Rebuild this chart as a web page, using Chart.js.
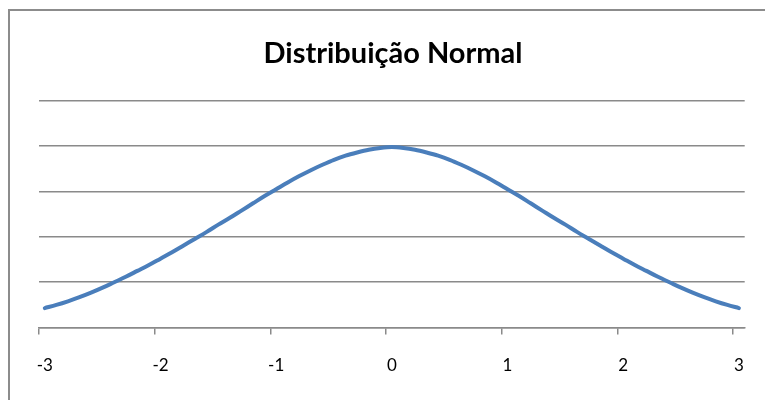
<!DOCTYPE html>
<html>
<head>
<meta charset="utf-8">
<script src="https://cdn.jsdelivr.net/npm/chart.js@4/dist/chart.umd.min.js"></script>
<style>
html,body{margin:0;padding:0;background:#fff;}
#wrap{width:765px;height:400px;position:relative;}
</style>
</head>
<body>
<div id="wrap"><canvas id="c" width="765" height="400"></canvas></div>
<script>
const chartTitle = 'Distribuição Normal';
const categories = ['-3','-2.9','-2.8','-2.7','-2.6','-2.5','-2.4','-2.3','-2.2','-2.1',
  '-2','-1.9','-1.8','-1.7','-1.6','-1.5','-1.4','-1.3','-1.2','-1.1',
  '-1','-0.9','-0.8','-0.7','-0.6','-0.5','-0.4','-0.3','-0.2','-0.1',
  '0','0.1','0.2','0.3','0.4','0.5','0.6','0.7','0.8','0.9',
  '1','1.1','1.2','1.3','1.4','1.5','1.6','1.7','1.8','1.9',
  '2','2.1','2.2','2.3','2.4','2.5','2.6','2.7','2.8','2.9','3'];
const densityValues = [0.043,0.050,0.058,0.067,0.077,0.088,0.100,0.112,0.125,0.138,
  0.152,0.166,0.181,0.196,0.211,0.227,0.242,0.258,0.274,0.290,
  0.305,0.320,0.334,0.347,0.359,0.370,0.379,0.386,0.392,0.396,
  0.398,0.396,0.392,0.386,0.379,0.370,0.359,0.347,0.334,0.320,
  0.305,0.290,0.274,0.258,0.242,0.227,0.211,0.196,0.181,0.166,
  0.152,0.138,0.125,0.112,0.100,0.088,0.077,0.067,0.058,0.050,0.043];
const tickLabels = ['-3','-2','-1','0','1','2','3'];
const yMin = 0, yMax = 0.5, yStep = 0.1;

const frame = {
  id: 'frame',
  beforeDraw(chart) {
    const ctx = chart.ctx;
    ctx.save();
    ctx.fillStyle = '#ffffff';
    ctx.fillRect(0, 0, chart.width, chart.height);
    ctx.strokeStyle = '#8c8c8c';
    ctx.lineWidth = 2;
    ctx.beginPath();
    ctx.moveTo(9, chart.height);
    ctx.lineTo(9, 10);
    ctx.lineTo(chart.width, 10);
    ctx.stroke();
    ctx.restore();
  }
};

new Chart(document.getElementById('c'), {
  type: 'line',
  data: {
    labels: categories,
    datasets: [{
      data: densityValues,
      borderColor: '#4a7ebb',
      borderWidth: 4,
      borderCapStyle: 'round',
      borderJoinStyle: 'round',
      pointRadius: 0,
      cubicInterpolationMode: 'monotone',
      fill: false
    }]
  },
  options: {
    responsive: false,
    animation: false,
    layout: { padding: { left: 39, right: 18, top: 0, bottom: 3 } },
    plugins: {
      legend: { display: false },
      tooltip: { enabled: false },
      title: {
        display: true,
        text: chartTitle,
        color: '#000',
        font: { family: 'Lato', size: 29, weight: 'bold' },
        padding: { top: 36, bottom: 30 }
      }
    },
    scales: {
      x: {
        type: 'category',
        offset: true,
        grid: {
          offset: true,
          drawOnChartArea: false,
          drawTicks: true,
          tickLength: 7,
          lineWidth: 1.5,
          color: (ctx) => (ctx.index !== undefined && ctx.index % 10 === 0) ? '#8a8a8a' : 'rgba(0,0,0,0)'
        },
        border: { display: true, color: '#8a8a8a', width: 1.5 },
        ticks: {
          autoSkip: false,
          maxRotation: 0,
          minRotation: 0,
          padding: 21,
          color: '#000',
          font: { family: 'Lato', size: 17 },
          callback: function(value, index) {
            const lab = categories[index];
            return tickLabels.includes(lab) ? lab : '';
          }
        }
      },
      y: {
        min: yMin,
        max: yMax,
        ticks: { display: false, stepSize: yStep },
        border: { display: false },
        grid: { color: '#8a8a8a', lineWidth: 1.5, drawTicks: false }
      }
    }
  },
  plugins: [frame]
});
</script>
</body>
</html>
